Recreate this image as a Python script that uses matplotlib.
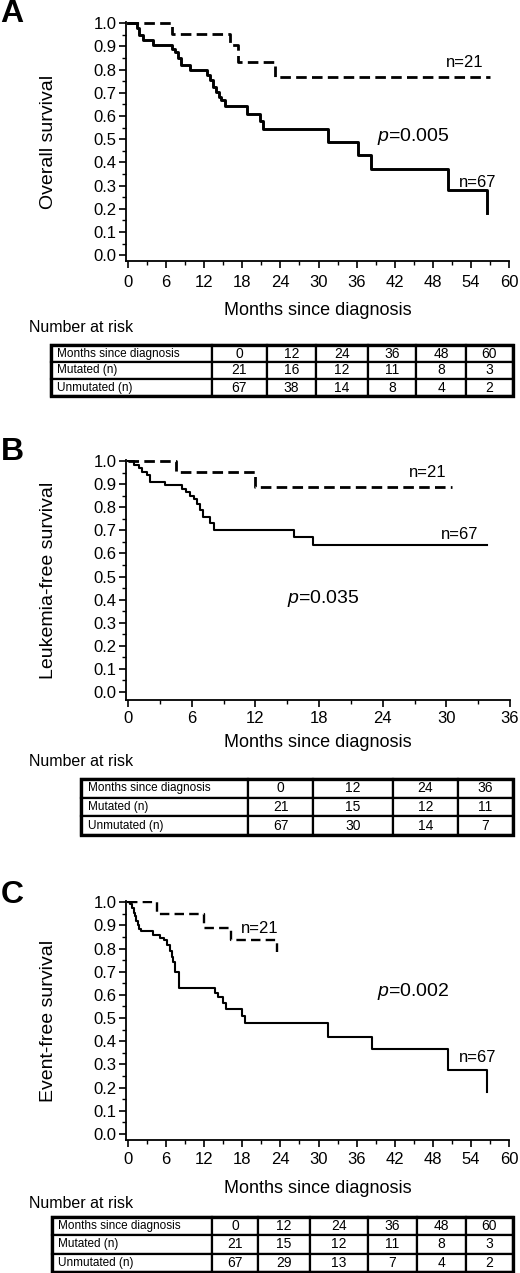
import matplotlib
matplotlib.use("Agg")
import matplotlib.pyplot as plt
import numpy as np
from matplotlib.ticker import MultipleLocator
from matplotlib.patches import Rectangle

plt.rcParams['font.family'] = ['Liberation Sans', 'DejaVu Sans']
plt.rcParams['mathtext.fontset'] = 'custom'
plt.rcParams['mathtext.rm'] = 'Liberation Sans'
plt.rcParams['mathtext.it'] = 'Liberation Sans:italic'

W, H = 520, 1273

# ---- panel A: overall survival ----
a_mut_t = [0, 6.9, 16.1, 17.4, 23.2, 57.0]
a_mut_s = [1.0, 0.952, 0.905, 0.833, 0.77, 0.77]
a_unm_t = [0, 1.4, 1.8, 2.4, 4.0, 6.9, 7.4, 7.9, 8.4, 9.8, 12.4, 12.9, 13.4,
           13.9, 14.4, 14.7, 15.2, 18.7, 20.8, 21.3, 31.5, 36.2, 38.2, 50.4, 56.6]
a_unm_s = [1.0, 0.977, 0.951, 0.927, 0.905, 0.89, 0.875, 0.85, 0.82, 0.80, 0.776,
           0.754, 0.726, 0.705, 0.683, 0.668, 0.644, 0.61, 0.58, 0.545, 0.49,
           0.43, 0.37, 0.28, 0.18]
a_months = ['0', '12', '24', '36', '48', '60']
a_mut_risk = ['21', '16', '12', '11', '8', '3']
a_unm_risk = ['67', '38', '14', '8', '4', '2']

# ---- panel B: leukemia-free survival ----
b_mut_t = [0, 4.5, 12.0, 30.5]
b_mut_s = [1.0, 0.952, 0.89, 0.89]
b_unm_t = [0, 0.6, 1.0, 1.3, 1.8, 2.1, 3.5, 5.1, 5.5, 5.8, 6.2, 6.5, 6.8, 7.1,
           7.7, 8.1, 15.6, 17.4, 33.8]
b_unm_s = [1.0, 0.985, 0.97, 0.955, 0.94, 0.91, 0.895, 0.88, 0.865, 0.85, 0.835,
           0.815, 0.79, 0.76, 0.73, 0.70, 0.67, 0.635, 0.635]
b_months = ['0', '12', '24', '36']
b_mut_risk = ['21', '15', '12', '11']
b_unm_risk = ['67', '30', '14', '7']

# ---- panel C: event-free survival ----
c_mut_t = [0, 4.5, 11.9, 16.2, 23.4]
c_mut_s = [1.0, 0.95, 0.89, 0.835, 0.785]
c_unm_t = [0, 0.3, 0.6, 0.9, 1.1, 1.3, 1.5, 1.7, 2.1, 4.0, 5.0, 5.6, 6.1, 6.6,
           6.9, 7.1, 7.4, 8.1, 13.7, 14.2, 14.9, 15.5, 17.9, 18.5, 31.5, 38.5,
           50.4, 56.5]
c_unm_s = [1.0, 0.99, 0.975, 0.955, 0.94, 0.92, 0.90, 0.885, 0.875, 0.86, 0.845,
           0.835, 0.815, 0.79, 0.765, 0.74, 0.70, 0.63, 0.61, 0.59, 0.565, 0.54,
           0.51, 0.48, 0.42, 0.365, 0.275, 0.18]
c_months = ['0', '12', '24', '36', '48', '60']
c_mut_risk = ['21', '15', '12', '11', '8', '3']
c_unm_risk = ['67', '29', '13', '7', '4', '2']


def px_axes(fig, l, t, r, b):
    return fig.add_axes([l / W, 1 - b / H, (r - l) / W, (b - t) / H])


def km_axes(fig, box, xmax, xmin, ymin, ylabel, xpad=5, labelpad=9):
    ax = px_axes(fig, *box)
    ax.set_xlim(xmin, xmax)
    ax.set_ylim(ymin, 1.005)
    for s in ['top', 'right']:
        ax.spines[s].set_visible(False)
    for s in ['left', 'bottom']:
        ax.spines[s].set_linewidth(1.3)
    ax.xaxis.set_major_locator(MultipleLocator(6))
    ax.xaxis.set_minor_locator(MultipleLocator(3))
    ax.yaxis.set_minor_locator(MultipleLocator(0.05))
    ax.set_yticks(np.arange(0, 1.01, 0.1))
    ax.set_yticklabels([f'{v:.1f}' for v in np.arange(0, 1.01, 0.1)])
    ax.tick_params(which='major', direction='out', length=5, width=1.2,
                   labelsize=12, pad=2)
    ax.tick_params(axis='x', which='major', pad=xpad)
    ax.tick_params(which='minor', direction='out', length=3, width=1.0)
    ax.set_xlabel('Months since diagnosis', fontsize=13, labelpad=labelpad)
    ax.set_ylabel(ylabel, fontsize=14)
    ax.yaxis.set_label_coords(-0.18, 0.5)
    return ax


def risk_table(fig, box, edges, months, mut, unm):
    ax = px_axes(fig, *box)
    ax.axis('off')
    rows = [['Months since diagnosis'] + months,
            ['Mutated (n)'] + mut,
            ['Unmutated (n)'] + unm]
    widths = np.diff(edges) / (edges[-1] - edges[0])
    tb = ax.table(cellText=rows, colWidths=list(widths), bbox=[0, 0, 1, 1],
                  cellLoc='center')
    tb.auto_set_font_size(False)
    for (r, c), cell in tb.get_celld().items():
        cell.set_linewidth(1.6)
        if c == 0:
            cell._loc = 'left'
            cell.PAD = 0.04
            cell.get_text().set_horizontalalignment('left')
            cell.get_text().set_fontsize(8.5)
        else:
            cell.get_text().set_fontsize(10)
    ax.add_patch(Rectangle((0, 0), 1, 1, transform=ax.transAxes, fill=False,
                           lw=2.4, clip_on=False))


fig = plt.figure(figsize=(W / 100, H / 100), dpi=100)

# panel A
ax = km_axes(fig, (126, 22, 509, 261), 60, -0.315, -0.025, 'Overall survival')
ax.step(a_mut_t, a_mut_s, where='post', color='black', lw=2.0,
        linestyle=(0, (3.8, 1.9)))
ax.step(a_unm_t, a_unm_s, where='post', color='black', lw=2.1)
ax.text(53.1, 0.83, 'n=21', fontsize=12, ha='center', va='center')
ax.text(55.0, 0.315, 'n=67', fontsize=12, ha='center', va='center')
ax.text(44.9, 0.51, '$\\it{p}$=0.005', fontsize=14, ha='center', va='center')
fig.text(12 / W, 1 - 14 / H, 'A', fontsize=23, fontweight='bold',
         ha='center', va='center')
fig.text(29 / W, 1 - 328 / H, 'Number at risk', fontsize=11.5, va='center')
risk_table(fig, (51, 345, 513, 396), np.array([51, 212, 267, 316, 368, 416, 466, 513]),
           a_months, a_mut_risk, a_unm_risk)

# panel B
ax = km_axes(fig, (126, 460, 510, 700), 36, -0.19, -0.035,
             'Leukemia-free survival', xpad=3, labelpad=6)
ax.step(b_mut_t, b_mut_s, where='post', color='black', lw=2.0,
        linestyle=(0, (3.8, 1.9)))
ax.step(b_unm_t, b_unm_s, where='post', color='black', lw=1.5)
ax.text(28.2, 0.952, 'n=21', fontsize=12, ha='center', va='center')
ax.text(31.3, 0.683, 'n=67', fontsize=12, ha='center', va='center')
ax.text(18.4, 0.404, '$\\it{p}$=0.035', fontsize=14, ha='center', va='center')
fig.text(12 / W, 1 - 452 / H, 'B', fontsize=23, fontweight='bold',
         ha='center', va='center')
fig.text(29 / W, 1 - 762 / H, 'Number at risk', fontsize=11.5, va='center')
risk_table(fig, (81, 779, 513, 835), np.array([81, 248, 313, 393, 458, 513]),
           b_months, b_mut_risk, b_unm_risk)

# panel C
ax = km_axes(fig, (126, 901, 509, 1140), 60, -0.315, -0.026,
             'Event-free survival', xpad=4, labelpad=9)
ax.step(c_mut_t, c_mut_s, where='post', color='black', lw=1.7,
        linestyle=(0, (4, 2.2)))
ax.step(c_unm_t, c_unm_s, where='post', color='black', lw=1.5)
ax.text(20.8, 0.887, 'n=21', fontsize=12, ha='center', va='center')
ax.text(55.1, 0.33, 'n=67', fontsize=12, ha='center', va='center')
ax.text(44.9, 0.613, '$\\it{p}$=0.002', fontsize=14, ha='center', va='center')
fig.text(12 / W, 1 - 895 / H, 'C', fontsize=23, fontweight='bold',
         ha='center', va='center')
fig.text(29 / W, 1 - 1203 / H, 'Number at risk', fontsize=11.5, va='center')
risk_table(fig, (52, 1217, 513, 1272), np.array([52, 212, 258, 310, 368, 417, 466, 513]),
           c_months, c_mut_risk, c_unm_risk)

fig.savefig('out.png', dpi=100)
